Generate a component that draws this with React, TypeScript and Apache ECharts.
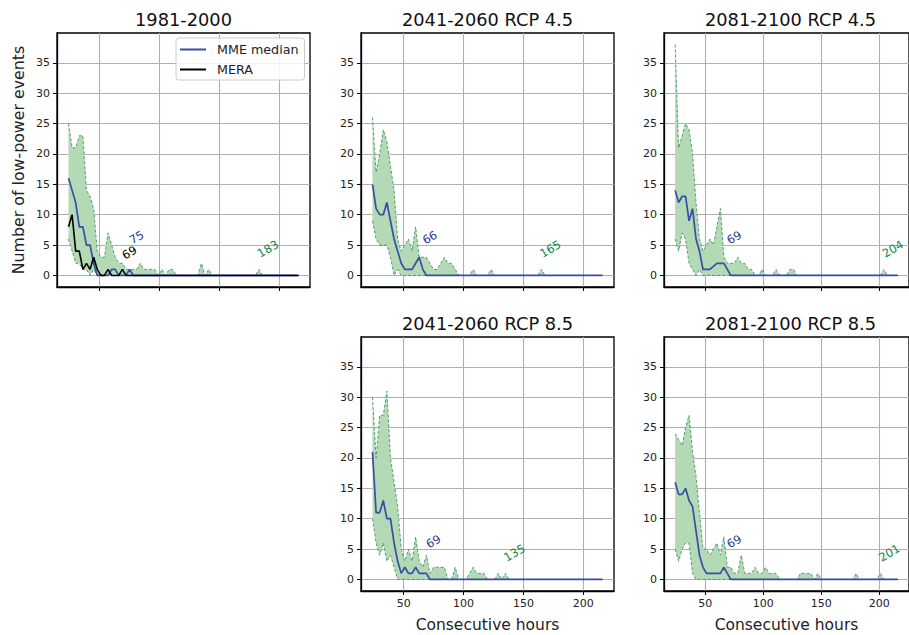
import React, { useEffect, useRef } from 'react';
import * as echarts from 'echarts';

// Event duration bins (hours)
const hours = [
  24, 27, 30, 33, 36, 39, 42, 45, 48, 51,
  54, 57, 60, 63, 66, 69, 72, 75, 78, 81,
  84, 87, 90, 93, 96, 99, 102, 105, 108, 111,
  114, 117, 120, 123, 126, 129, 132, 135, 138, 141,
  144, 147, 150, 153, 156, 159, 162, 165, 168, 171,
  174, 177, 180, 183, 186, 189, 192, 195, 198, 201,
  204, 207, 210, 213, 216,
];

const titles = ['1981-2000', '2041-2060 RCP 4.5', '2081-2100 RCP 4.5', '2041-2060 RCP 8.5', '2081-2100 RCP 8.5'];

// 1981-2000
const median1981 = [
  16, 14, 12, 8, 8, 5, 5, 2, 0, 0,
  0, 0, 1, 1, 0, 0, 0, 1, 0, 0,
  0, 0, 0, 0, 0, 0, 0, 0, 0, 0,
  0, 0, 0, 0, 0, 0, 0, 0, 0, 0,
  0, 0, 0, 0, 0, 0, 0, 0, 0, 0,
  0, 0, 0, 0, 0, 0, 0, 0, 0, 0,
  0, 0, 0, 0, 0,
];
const low1981 = [
  6, 4, 2, 2, 1, 1, 0, 1, 0, 0,
  0, 0, 0, 0, 0, 0, 0, 0, 0, 0,
  0, 0, 0, 0, 0, 0, 0, 0, 0, 0,
  0, 0, 0, 0, 0, 0, 0, 0, 0, 0,
  0, 0, 0, 0, 0, 0, 0, 0, 0, 0,
  0, 0, 0, 0, 0, 0, 0, 0, 0, 0,
  0, 0, 0, 0, 0,
];
const high1981 = [
  25, 21, 21, 23, 23, 14, 13, 11, 4, 3,
  3, 7, 5, 3, 2, 2, 1, 1, 1, 1,
  2, 1, 1, 1, 1, 0, 1, 0, 1, 1,
  0, 0, 0, 0, 0, 0, 0, 2, 0, 1,
  0, 0, 0, 0, 0, 0, 0, 0, 0, 0,
  0, 0, 0, 1, 0, 0, 0, 0, 0, 0,
  0, 0, 0, 0, 0,
];
const mera1981 = [
  8, 10, 4, 4, 1, 2, 1, 3, 1, 0,
  0, 1, 0, 0, 0, 1, 0, 0, 0, 0,
  0, 0, 0, 0, 0, 0, 0, 0, 0, 0,
  0, 0, 0, 0, 0, 0, 0, 0, 0, 0,
  0, 0, 0, 0, 0, 0, 0, 0, 0, 0,
  0, 0, 0, 0, 0, 0, 0, 0, 0, 0,
  0, 0, 0, 0, 0,
];

// 2041-2060 RCP 4.5
const median2041r45 = [
  15, 11, 10, 10, 12, 9, 6, 4, 2, 1,
  1, 1, 2, 3, 1, 0, 0, 0, 0, 0,
  0, 0, 0, 0, 0, 0, 0, 0, 0, 0,
  0, 0, 0, 0, 0, 0, 0, 0, 0, 0,
  0, 0, 0, 0, 0, 0, 0, 0, 0, 0,
  0, 0, 0, 0, 0, 0, 0, 0, 0, 0,
  0, 0, 0, 0, 0,
];
const low2041r45 = [
  9, 6, 5, 5, 5, 3, 0, 1, 0, 0,
  0, 0, 0, 0, 0, 0, 0, 0, 0, 0,
  0, 0, 0, 0, 0, 0, 0, 0, 0, 0,
  0, 0, 0, 0, 0, 0, 0, 0, 0, 0,
  0, 0, 0, 0, 0, 0, 0, 0, 0, 0,
  0, 0, 0, 0, 0, 0, 0, 0, 0, 0,
  0, 0, 0, 0, 0,
];
const high2041r45 = [
  26, 17, 20, 24, 22, 18, 14, 6, 4, 5,
  6, 4, 8, 3, 3, 3, 2, 1, 1, 2,
  3, 2, 2, 1, 0, 0, 0, 0, 1, 0,
  0, 0, 0, 1, 0, 0, 0, 0, 0, 0,
  0, 0, 0, 0, 0, 0, 0, 1, 0, 0,
  0, 0, 0, 0, 0, 0, 0, 0, 0, 0,
  0, 0, 0, 0, 0,
];

// 2081-2100 RCP 4.5
const median2081r45 = [
  14, 12, 13, 13, 9, 11, 6, 4, 1, 1,
  1, 1.5, 2, 2, 2, 1, 0, 0, 0, 0,
  0, 0, 0, 0, 0, 0, 0, 0, 0, 0,
  0, 0, 0, 0, 0, 0, 0, 0, 0, 0,
  0, 0, 0, 0, 0, 0, 0, 0, 0, 0,
  0, 0, 0, 0, 0, 0, 0, 0, 0, 0,
  0, 0, 0, 0, 0,
];
const low2081r45 = [
  6, 4, 7, 6, 2, 1, 0, 1, 0, 0,
  0, 0, 0, 0, 0, 0, 0, 0, 0, 0,
  0, 0, 0, 0, 0, 0, 0, 0, 0, 0,
  0, 0, 0, 0, 0, 0, 0, 0, 0, 0,
  0, 0, 0, 0, 0, 0, 0, 0, 0, 0,
  0, 0, 0, 0, 0, 0, 0, 0, 0, 0,
  0, 0, 0, 0, 0,
];
const high2081r45 = [
  38, 21, 23, 25, 24, 20, 12, 6, 4, 5,
  6, 5, 8, 11, 3, 2, 2, 2, 3, 2,
  2, 1, 1, 0, 0, 1, 0, 0, 0, 1,
  0, 0, 0, 1, 1, 0, 0, 0, 0, 0,
  0, 0, 0, 0, 0, 0, 0, 0, 0, 0,
  0, 0, 0, 0, 0, 0, 0, 0, 0, 0,
  1, 0, 0, 0, 0,
];

// 2041-2060 RCP 8.5
const median2041r85 = [
  21, 11, 11, 13, 10, 10, 6, 3, 1, 2,
  1, 1, 2, 1, 1, 1, 0, 0, 0, 0,
  0, 0, 0, 0, 0, 0, 0, 0, 0, 0,
  0, 0, 0, 0, 0, 0, 0, 0, 0, 0,
  0, 0, 0, 0, 0, 0, 0, 0, 0, 0,
  0, 0, 0, 0, 0, 0, 0, 0, 0, 0,
  0, 0, 0, 0, 0,
];
const low2041r85 = [
  10, 6, 4, 6, 3, 4, 2, 0, 0, 0,
  0, 0, 0, 0, 0, 0, 0, 0, 0, 0,
  0, 0, 0, 0, 0, 0, 0, 0, 0, 0,
  0, 0, 0, 0, 0, 0, 0, 0, 0, 0,
  0, 0, 0, 0, 0, 0, 0, 0, 0, 0,
  0, 0, 0, 0, 0, 0, 0, 0, 0, 0,
  0, 0, 0, 0, 0,
];
const high2041r85 = [
  30, 20, 27, 27, 31, 20, 16, 12, 5, 3,
  5, 3, 7, 3, 2, 4, 1, 2, 2, 2,
  2, 0, 0, 2, 0, 0, 0, 1, 2, 1,
  1, 1, 0, 0, 0, 1, 0, 1, 0, 0,
  0, 0, 0, 0, 0, 0, 0, 0, 0, 0,
  0, 0, 0, 0, 0, 0, 0, 0, 0, 0,
  0, 0, 0, 0, 0,
];

// 2081-2100 RCP 8.5
const median2081r85 = [
  16, 14, 14, 15, 13, 12, 8, 4, 2, 1,
  1, 1, 1, 1, 2, 1, 0, 0, 0, 0,
  0, 0, 0, 0, 0, 0, 0, 0, 0, 0,
  0, 0, 0, 0, 0, 0, 0, 0, 0, 0,
  0, 0, 0, 0, 0, 0, 0, 0, 0, 0,
  0, 0, 0, 0, 0, 0, 0, 0, 0, 0,
  0, 0, 0, 0, 0,
];
const low2081r85 = [
  5, 3, 5, 6, 6, 1, 0, 0, 0, 0,
  0, 0, 0, 0, 0, 0, 0, 0, 0, 0,
  0, 0, 0, 0, 0, 0, 0, 0, 0, 0,
  0, 0, 0, 0, 0, 0, 0, 0, 0, 0,
  0, 0, 0, 0, 0, 0, 0, 0, 0, 0,
  0, 0, 0, 0, 0, 0, 0, 0, 0, 0,
  0, 0, 0, 0, 0,
];
const high2081r85 = [
  24, 23, 22, 25, 27, 21, 17, 11, 5, 5,
  4, 5, 6, 4, 7, 2, 2, 1, 1, 4,
  1, 1, 1, 2, 1, 1, 2, 1, 1, 1,
  0, 0, 0, 0, 0, 0, 1, 1, 1, 1,
  0, 1, 0, 0, 0, 0, 0, 0, 0, 0,
  0, 0, 1, 0, 0, 0, 0, 0, 0, 1,
  0, 0, 0, 0, 0,
];

const xTicks = [50, 100, 150, 200];
const yTicks = [0, 5, 10, 15, 20, 25, 30, 35];

const FONT = 'DejaVu Sans';
const X_MIN = 14.4;
const X_MAX = 225.6;
const Y_MIN = -1.9;
const Y_MAX = 39.9;
const BOX_W = 253;
const BOX_H = 254;
const boxes = [
  { left: 57, top: 33, bottom: false },
  { left: 361, top: 33, bottom: false },
  { left: 664, top: 33, bottom: false },
  { left: 361, top: 337, bottom: true },
  { left: 664, top: 337, bottom: true },
];

const MEDIAN_COLOR = '#3a4ca6';
const MEDIAN_TEXT = '#2f3a96';
const BAND_FILL = '#b3d9b5';
const BAND_EDGE = '#2e8b57';
const MAX_TEXT = '#13854a';
const GRID_COLOR = '#b0b0b0';

const panels = [
  { title: titles[0], median: median1981, low: low1981, high: high1981, mera: mera1981 },
  { title: titles[1], median: median2041r45, low: low2041r45, high: high2041r45 },
  { title: titles[2], median: median2081r45, low: low2081r45, high: high2081r45 },
  { title: titles[3], median: median2041r85, low: low2041r85, high: high2041r85 },
  { title: titles[4], median: median2081r85, low: low2081r85, high: high2081r85 },
] as { title: string; median: number[]; low: number[]; high: number[]; mera?: number[] }[];

// longest duration with at least one event
function lastNonZero(values: number[]): number {
  let idx = 0;
  values.forEach((v, k) => {
    if (v > 0) idx = k;
  });
  return hours[idx];
}

// min–max ensemble envelope drawn as one filled polygon with dashed edges
function bandSeries(i: number, low: number[], high: number[]) {
  return {
    type: 'custom',
    name: 'range',
    xAxisIndex: i,
    yAxisIndex: i,
    silent: true,
    z: 2,
    data: hours.map((h, k) => [h, low[k], high[k]]),
    encode: { x: 0, y: [1, 2] },
    renderItem: (params: any, api: any) => {
      if (params.dataIndex !== 0) return null;
      const upper = hours.map((h, k) => api.coord([h, high[k]]));
      const lower = hours.map((h, k) => api.coord([h, low[k]]));
      const edge = { stroke: BAND_EDGE, lineWidth: 0.8, lineDash: [3, 2], fill: null };
      return {
        type: 'group',
        children: [
          {
            type: 'polygon',
            shape: { points: upper.concat(lower.slice().reverse()) },
            style: { fill: BAND_FILL, stroke: null },
          },
          { type: 'polyline', shape: { points: upper }, style: edge },
          { type: 'polyline', shape: { points: lower }, style: edge },
        ],
      };
    },
  };
}

// rotated duration notes placed at data coordinates
function noteSeries(i: number, notes: { value: number; dx: number; y: number; color: string }[]) {
  return {
    type: 'custom',
    name: 'notes',
    xAxisIndex: i,
    yAxisIndex: i,
    silent: true,
    clip: false,
    z: 6,
    data: notes.map((n) => [n.value + n.dx, n.y, n.value]),
    encode: { x: 0, y: 1 },
    renderItem: (params: any, api: any) => {
      const pt = api.coord([api.value(0), api.value(1)]);
      const n = notes[params.dataIndex];
      return {
        type: 'text',
        x: pt[0],
        y: pt[1],
        rotation: Math.PI / 6,
        style: {
          text: String(api.value(2)),
          fill: n.color,
          font: `11.6px "${FONT}"`,
          align: 'left',
          verticalAlign: 'bottom',
        },
      };
    },
  };
}

function buildOption() {
  const grid = boxes.map((b) => ({
    left: b.left,
    top: b.top,
    width: BOX_W,
    height: BOX_H,
    show: true,
    borderColor: '#000',
    borderWidth: 1.3,
    backgroundColor: 'transparent',
  }));

  const textStyle = { fontFamily: FONT, color: '#222' };

  const xAxis = boxes.map((b, i) => ({
    type: 'value',
    gridIndex: i,
    min: X_MIN,
    max: X_MAX,
    splitNumber: 5,
    axisLine: { show: true, onZero: false, lineStyle: { color: '#000', width: 1.3 } },
    axisTick: { show: true, length: 4, customValues: xTicks, lineStyle: { color: '#000', width: 1 } },
    axisLabel: { show: b.bottom, customValues: xTicks, fontSize: 11, margin: 7, ...textStyle },
    splitLine: { show: true, lineStyle: { color: GRID_COLOR, width: 1.1 } },
    name: b.bottom ? 'Consecutive hours' : '',
    nameLocation: 'middle',
    nameGap: 26,
    nameTextStyle: { fontSize: 15.5, ...textStyle },
  }));

  const yAxis = boxes.map((b, i) => ({
    type: 'value',
    gridIndex: i,
    min: Y_MIN,
    max: Y_MAX,
    splitNumber: 8,
    axisLine: { show: true, onZero: false, lineStyle: { color: '#000', width: 1.3 } },
    axisTick: { show: true, length: 4, customValues: yTicks, lineStyle: { color: '#000', width: 1 } },
    axisLabel: { show: true, customValues: yTicks, fontSize: 11, margin: 7, ...textStyle },
    splitLine: { show: true, lineStyle: { color: GRID_COLOR, width: 1.1 } },
    name: i === 0 ? 'Number of low-power events' : '',
    nameLocation: 'middle',
    nameGap: 31,
    nameTextStyle: { fontSize: 15.8, ...textStyle },
  }));

  const series: any[] = [];
  panels.forEach((p, i) => {
    series.push(bandSeries(i, p.low, p.high));
    series.push({
      type: 'line',
      name: 'MME median',
      xAxisIndex: i,
      yAxisIndex: i,
      symbol: 'none',
      color: MEDIAN_COLOR,
      lineStyle: { color: MEDIAN_COLOR, width: 1.7 },
      data: hours.map((h, k) => [h, p.median[k]]),
      z: 3,
    });
    const notes = [
      { value: lastNonZero(p.median), dx: 3, y: 4.8, color: MEDIAN_TEXT },
      { value: lastNonZero(p.high), dx: 2, y: 2.6, color: MAX_TEXT },
    ];
    if (p.mera) {
      series.push({
        type: 'line',
        name: 'MERA',
        xAxisIndex: i,
        yAxisIndex: i,
        symbol: 'none',
        color: '#000',
        lineStyle: { color: '#000', width: 1.6 },
        data: hours.map((h, k) => [h, p.mera![k]]),
        z: 4,
      });
      notes.push({ value: lastNonZero(p.mera), dx: 3, y: 2.3, color: '#000' });
    }
    series.push(noteSeries(i, notes));
  });

  const graphic = panels.map((p, i) => ({
    type: 'text',
    x: boxes[i].left + BOX_W / 2,
    y: boxes[i].top - 13.5,
    style: {
      text: p.title,
      font: `17.8px "${FONT}"`,
      fill: '#111',
      align: 'center',
      verticalAlign: 'middle',
    },
  }));

  return {
    animation: false,
    backgroundColor: '#fff',
    grid,
    xAxis,
    yAxis,
    series,
    graphic,
    legend: {
      data: ['MME median', 'MERA'],
      orient: 'vertical',
      left: 176,
      top: 38,
      icon: 'rect',
      itemWidth: 26,
      itemHeight: 2,
      itemGap: 7,
      padding: [5, 6, 4, 4],
      backgroundColor: 'rgba(255,255,255,0.85)',
      borderColor: '#cccccc',
      borderWidth: 1,
      borderRadius: 3,
      textStyle: { fontFamily: FONT, fontSize: 12.7, color: '#222', padding: [0, 0, 0, 6] },
      selectedMode: false,
    },
  };
}

export default function App() {
  const ref = useRef<HTMLDivElement>(null);
  useEffect(() => {
    const chart = echarts.init(ref.current!, undefined, { renderer: 'svg' });
    chart.setOption(buildOption() as any);
    return () => chart.dispose();
  }, []);
  return (
    <div
      ref={ref}
      style={{ position: 'absolute', left: 0, top: 0, width: 909, height: 635, background: '#fff' }}
    />
  );
}
